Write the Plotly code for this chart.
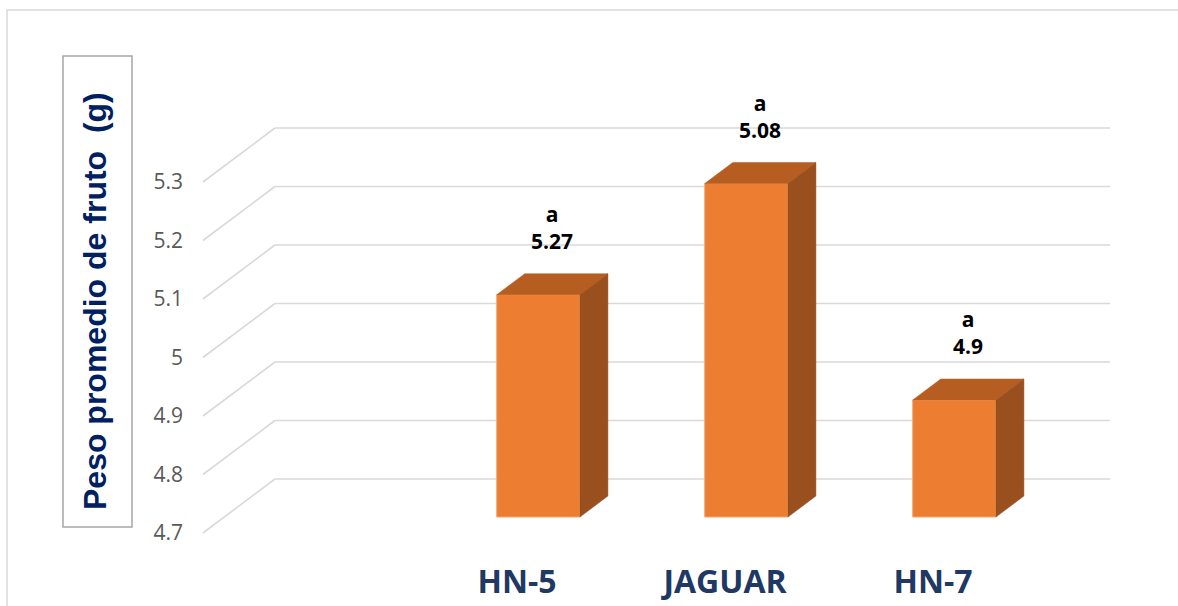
import plotly.graph_objects as go

# ---------------- data ----------------
CATEGORIES = ["HN-5", "JAGUAR", "HN-7"]
VALUES = [5.08, 5.27, 4.90]            # bar heights
LABEL_VALUES = ["5.27", "5.08", "4.9"]  # label texts as printed
LABEL_GROUPS = ["a", "a", "a"]
Y_TICKS = [4.7, 4.8, 4.9, 5.0, 5.1, 5.2, 5.3]
Y_TICK_TEXT = ["4.7", "4.8", "4.9", "5", "5.1", "5.2", "5.3"]
Y_BASE = 4.7
Y_TITLE = "Peso promedio de fruto  (g)"

# ---------------- layout geometry ----------------
W, H = 1178, 606
L, R, T, B = 200, 66, 126, 70
PX_X = 208.0      # px per category unit
PX_Y = 585.0      # px per value unit
X0_PX = 517.0     # px of category 0 (front plane)
Y0_PX = 533.0     # px of Y_BASE (front plane)
X_RANGE = [(L - X0_PX) / PX_X, (W - R - X0_PX) / PX_X]
Y_RANGE = [Y_BASE - (H - B - Y0_PX) / PX_Y, Y_BASE + (Y0_PX - T) / PX_Y]
WALL_X0 = -1.51
WALL_X1 = 2.505
DX = 72 / PX_X    # depth offset (x units) front plane -> back wall
DY = 54 / PX_Y    # depth offset (y units)
D_FRONT = 0.296
D_BACK = 0.685
BAR_W = 0.4

FRONT = "#ED7D31"
TOP = "#B65E21"
SIDE = "#9A4F1E"
GRID = "#D9D9D9"


def px_to_paper(px, py):
    return (px - L) / (W - L - R), (H - B - py) / (H - T - B)


fig = go.Figure()

# front faces of bars
xs_front = [i + D_FRONT * DX for i in range(len(CATEGORIES))]
fig.add_trace(go.Bar(
    x=xs_front,
    y=[v - Y_BASE for v in VALUES],
    base=Y_BASE + D_FRONT * DY,
    width=BAR_W,
    marker=dict(color=FRONT, line=dict(color="#F6A870", width=1)),
    hoverinfo="skip",
    showlegend=False,
))

ddx = (D_BACK - D_FRONT) * DX
ddy = (D_BACK - D_FRONT) * DY
for i, v in enumerate(VALUES):
    xl = xs_front[i] - BAR_W / 2
    xr = xs_front[i] + BAR_W / 2
    yb = Y_BASE + D_FRONT * DY
    yt = v + D_FRONT * DY
    # top face
    fig.add_trace(go.Scatter(
        x=[xl, xr, xr + ddx, xl + ddx, xl],
        y=[yt, yt, yt + ddy, yt + ddy, yt],
        fill="toself", fillcolor=TOP, mode="lines",
        line=dict(color=TOP, width=0.5), hoverinfo="skip", showlegend=False))
    # side face
    fig.add_trace(go.Scatter(
        x=[xr, xr + ddx, xr + ddx, xr, xr],
        y=[yb, yb + ddy, yt + ddy, yt, yb],
        fill="toself", fillcolor=SIDE, mode="lines",
        line=dict(color=SIDE, width=0.5), hoverinfo="skip", showlegend=False))

# gridlines (floor diagonal + back wall)
shapes = []
for t in Y_TICKS:
    shapes.append(dict(type="line", xref="x", yref="y", layer="below",
                       x0=WALL_X0, y0=t, x1=WALL_X0 + DX, y1=t + DY,
                       line=dict(color=GRID, width=1.6)))
    shapes.append(dict(type="line", xref="x", yref="y", layer="below",
                       x0=WALL_X0 + DX, y0=t + DY, x1=WALL_X1 + DX, y1=t + DY,
                       line=dict(color=GRID, width=1.6)))

# outer chart border
bx0, by0 = px_to_paper(7, 10)
bx1, by1 = px_to_paper(W + 10, H + 10)
shapes.append(dict(type="rect", xref="paper", yref="paper", layer="below",
                   x0=bx0, y0=by1, x1=bx1, y1=by0,
                   line=dict(color="#D9D9D9", width=1.5)))
# title box
tx0, ty0 = px_to_paper(63, 56)
tx1, ty1 = px_to_paper(132, 527)
shapes.append(dict(type="rect", xref="paper", yref="paper", layer="below",
                   x0=tx0, y0=ty1, x1=tx1, y1=ty0,
                   line=dict(color="#A6A6A6", width=1.5)))

annotations = []
for i, v in enumerate(VALUES):
    annotations.append(dict(
        x=i + (D_FRONT + D_BACK) / 2 * DX, y=v + D_BACK * DY,
        xref="x", yref="y", xanchor="center", yanchor="bottom",
        yshift=17, showarrow=False,
        text=f"{LABEL_GROUPS[i]}<br>{LABEL_VALUES[i]}",
        font=dict(family="Open Sans", size=21, color="#000000", weight="bold"),
    ))

ttx, tty = px_to_paper(95, 301)
annotations.append(dict(
    x=ttx, y=tty, xref="paper", yref="paper", showarrow=False,
    xanchor="center", yanchor="middle",
    textangle=-90, text=Y_TITLE,
    font=dict(family="Liberation Sans", size=32, color="#002060", weight="bold"),
))

fig.update_layout(
    width=W, height=H, autosize=False,
    margin=dict(l=L, r=R, t=T, b=B, pad=0),
    paper_bgcolor="white", plot_bgcolor="white",
    shapes=shapes, annotations=annotations,
    showlegend=False,
    xaxis=dict(range=X_RANGE, tickmode="array", tickvals=list(range(len(CATEGORIES))),
               ticktext=CATEGORIES, showgrid=False, zeroline=False, showline=False,
               ticks="", ticklabelstandoff=24, automargin=False,
               tickfont=dict(family="Open Sans", size=32, color="#203864", weight="bold")),
    yaxis=dict(range=Y_RANGE, tickmode="array", tickvals=Y_TICKS, ticktext=Y_TICK_TEXT,
               showgrid=False, zeroline=False, showline=False, ticks="",
               ticklabelstandoff=16, automargin=False,
               tickfont=dict(family="Open Sans", size=21, color="#595959")),
)

fig.write_html("out.html")
